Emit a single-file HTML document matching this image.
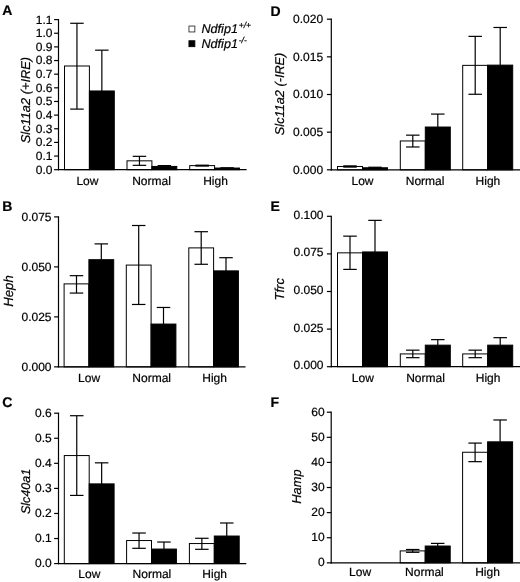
<!DOCTYPE html>
<html><head><meta charset="utf-8"><title>Figure</title>
<style>
html,body{margin:0;padding:0;background:#fff;}
body{width:520px;height:582px;overflow:hidden;}
svg{display:block;font-family:"Liberation Sans",sans-serif;fill:#000;text-rendering:geometricPrecision;}
text{stroke:#000;stroke-width:0.22px;}
</style></head><body>
<svg width="520" height="582" viewBox="0 0 520 582">
<rect x="0" y="0" width="520" height="582" fill="#fff"/>
<g>
<rect x="64.50" y="65.99" width="24.90" height="103.71" fill="#fff" stroke="#000" stroke-width="1.0"/>
<line x1="76.95" y1="23.28" x2="76.95" y2="109.11" stroke="#000" stroke-width="1.2"/>
<line x1="70.20" y1="23.28" x2="83.70" y2="23.28" stroke="#000" stroke-width="1.2"/>
<line x1="70.20" y1="109.11" x2="83.70" y2="109.11" stroke="#000" stroke-width="1.2"/>
<line x1="101.85" y1="50.17" x2="101.85" y2="90.97" stroke="#000" stroke-width="1.2"/>
<line x1="95.10" y1="50.17" x2="108.60" y2="50.17" stroke="#000" stroke-width="1.2"/>
<rect x="89.40" y="90.97" width="24.90" height="78.73" fill="#000" stroke="#000" stroke-width="1.0"/>
<rect x="127.00" y="160.83" width="24.90" height="8.87" fill="#fff" stroke="#000" stroke-width="1.0"/>
<line x1="139.45" y1="156.33" x2="139.45" y2="165.33" stroke="#000" stroke-width="1.2"/>
<line x1="132.70" y1="156.33" x2="146.20" y2="156.33" stroke="#000" stroke-width="1.2"/>
<line x1="132.70" y1="165.33" x2="146.20" y2="165.33" stroke="#000" stroke-width="1.2"/>
<line x1="164.35" y1="165.61" x2="164.35" y2="166.43" stroke="#000" stroke-width="1.2"/>
<line x1="157.60" y1="165.61" x2="171.10" y2="165.61" stroke="#000" stroke-width="1.2"/>
<rect x="151.90" y="166.43" width="24.90" height="3.27" fill="#000" stroke="#000" stroke-width="1.0"/>
<rect x="189.70" y="165.61" width="24.90" height="4.09" fill="#fff" stroke="#000" stroke-width="1.0"/>
<line x1="202.15" y1="165.20" x2="202.15" y2="166.02" stroke="#000" stroke-width="1.2"/>
<line x1="195.40" y1="165.20" x2="208.90" y2="165.20" stroke="#000" stroke-width="1.2"/>
<line x1="195.40" y1="166.02" x2="208.90" y2="166.02" stroke="#000" stroke-width="1.2"/>
<line x1="227.05" y1="167.79" x2="227.05" y2="168.06" stroke="#000" stroke-width="1.2"/>
<line x1="220.30" y1="167.79" x2="233.80" y2="167.79" stroke="#000" stroke-width="1.2"/>
<rect x="214.60" y="168.06" width="24.90" height="1.64" fill="#000" stroke="#000" stroke-width="1.0"/>
<line x1="58.50" y1="19.00" x2="58.50" y2="170.30" stroke="#000" stroke-width="1.2"/>
<line x1="57.90" y1="169.70" x2="246.60" y2="169.70" stroke="#000" stroke-width="1.2"/>
<line x1="54.10" y1="169.70" x2="58.50" y2="169.70" stroke="#000" stroke-width="1.2"/>
<line x1="54.10" y1="156.05" x2="58.50" y2="156.05" stroke="#000" stroke-width="1.2"/>
<line x1="54.10" y1="142.41" x2="58.50" y2="142.41" stroke="#000" stroke-width="1.2"/>
<line x1="54.10" y1="128.76" x2="58.50" y2="128.76" stroke="#000" stroke-width="1.2"/>
<line x1="54.10" y1="115.12" x2="58.50" y2="115.12" stroke="#000" stroke-width="1.2"/>
<line x1="54.10" y1="101.47" x2="58.50" y2="101.47" stroke="#000" stroke-width="1.2"/>
<line x1="54.10" y1="87.83" x2="58.50" y2="87.83" stroke="#000" stroke-width="1.2"/>
<line x1="54.10" y1="74.18" x2="58.50" y2="74.18" stroke="#000" stroke-width="1.2"/>
<line x1="54.10" y1="60.54" x2="58.50" y2="60.54" stroke="#000" stroke-width="1.2"/>
<line x1="54.10" y1="46.89" x2="58.50" y2="46.89" stroke="#000" stroke-width="1.2"/>
<line x1="54.10" y1="33.25" x2="58.50" y2="33.25" stroke="#000" stroke-width="1.2"/>
<line x1="54.10" y1="19.60" x2="58.50" y2="19.60" stroke="#000" stroke-width="1.2"/>
<rect x="64.10" y="283.88" width="24.80" height="82.97" fill="#fff" stroke="#000" stroke-width="1.0"/>
<line x1="76.50" y1="275.68" x2="76.50" y2="293.07" stroke="#000" stroke-width="1.2"/>
<line x1="69.75" y1="275.68" x2="83.25" y2="275.68" stroke="#000" stroke-width="1.2"/>
<line x1="69.75" y1="293.07" x2="83.25" y2="293.07" stroke="#000" stroke-width="1.2"/>
<line x1="101.30" y1="243.89" x2="101.30" y2="259.69" stroke="#000" stroke-width="1.2"/>
<line x1="94.55" y1="243.89" x2="108.05" y2="243.89" stroke="#000" stroke-width="1.2"/>
<rect x="88.90" y="259.69" width="24.80" height="107.16" fill="#000" stroke="#000" stroke-width="1.0"/>
<rect x="126.30" y="265.08" width="24.80" height="101.77" fill="#fff" stroke="#000" stroke-width="1.0"/>
<line x1="138.70" y1="225.50" x2="138.70" y2="304.47" stroke="#000" stroke-width="1.2"/>
<line x1="131.95" y1="225.50" x2="145.45" y2="225.50" stroke="#000" stroke-width="1.2"/>
<line x1="131.95" y1="304.47" x2="145.45" y2="304.47" stroke="#000" stroke-width="1.2"/>
<line x1="163.50" y1="307.47" x2="163.50" y2="324.06" stroke="#000" stroke-width="1.2"/>
<line x1="156.75" y1="307.47" x2="170.25" y2="307.47" stroke="#000" stroke-width="1.2"/>
<rect x="151.10" y="324.06" width="24.80" height="42.79" fill="#000" stroke="#000" stroke-width="1.0"/>
<rect x="188.80" y="247.89" width="24.80" height="118.96" fill="#fff" stroke="#000" stroke-width="1.0"/>
<line x1="201.20" y1="231.70" x2="201.20" y2="264.28" stroke="#000" stroke-width="1.2"/>
<line x1="194.45" y1="231.70" x2="207.95" y2="231.70" stroke="#000" stroke-width="1.2"/>
<line x1="194.45" y1="264.28" x2="207.95" y2="264.28" stroke="#000" stroke-width="1.2"/>
<line x1="226.00" y1="257.69" x2="226.00" y2="270.88" stroke="#000" stroke-width="1.2"/>
<line x1="219.25" y1="257.69" x2="232.75" y2="257.69" stroke="#000" stroke-width="1.2"/>
<rect x="213.60" y="270.88" width="24.80" height="95.97" fill="#000" stroke="#000" stroke-width="1.0"/>
<line x1="58.50" y1="216.30" x2="58.50" y2="367.45" stroke="#000" stroke-width="1.2"/>
<line x1="57.90" y1="366.85" x2="245.50" y2="366.85" stroke="#000" stroke-width="1.2"/>
<line x1="54.10" y1="366.85" x2="58.50" y2="366.85" stroke="#000" stroke-width="1.2"/>
<line x1="54.10" y1="316.87" x2="58.50" y2="316.87" stroke="#000" stroke-width="1.2"/>
<line x1="54.10" y1="266.88" x2="58.50" y2="266.88" stroke="#000" stroke-width="1.2"/>
<line x1="54.10" y1="216.90" x2="58.50" y2="216.90" stroke="#000" stroke-width="1.2"/>
<rect x="64.30" y="455.56" width="24.90" height="108.04" fill="#fff" stroke="#000" stroke-width="1.0"/>
<line x1="76.75" y1="415.71" x2="76.75" y2="495.42" stroke="#000" stroke-width="1.2"/>
<line x1="70.00" y1="415.71" x2="83.50" y2="415.71" stroke="#000" stroke-width="1.2"/>
<line x1="70.00" y1="495.42" x2="83.50" y2="495.42" stroke="#000" stroke-width="1.2"/>
<line x1="101.65" y1="462.83" x2="101.65" y2="483.89" stroke="#000" stroke-width="1.2"/>
<line x1="94.90" y1="462.83" x2="108.40" y2="462.83" stroke="#000" stroke-width="1.2"/>
<rect x="89.20" y="483.89" width="24.90" height="79.71" fill="#000" stroke="#000" stroke-width="1.0"/>
<rect x="126.60" y="540.54" width="24.90" height="23.06" fill="#fff" stroke="#000" stroke-width="1.0"/>
<line x1="139.05" y1="533.02" x2="139.05" y2="548.31" stroke="#000" stroke-width="1.2"/>
<line x1="132.30" y1="533.02" x2="145.80" y2="533.02" stroke="#000" stroke-width="1.2"/>
<line x1="132.30" y1="548.31" x2="145.80" y2="548.31" stroke="#000" stroke-width="1.2"/>
<line x1="163.95" y1="542.04" x2="163.95" y2="549.06" stroke="#000" stroke-width="1.2"/>
<line x1="157.20" y1="542.04" x2="170.70" y2="542.04" stroke="#000" stroke-width="1.2"/>
<rect x="151.50" y="549.06" width="24.90" height="14.54" fill="#000" stroke="#000" stroke-width="1.0"/>
<rect x="189.40" y="543.55" width="24.90" height="20.05" fill="#fff" stroke="#000" stroke-width="1.0"/>
<line x1="201.85" y1="538.28" x2="201.85" y2="549.31" stroke="#000" stroke-width="1.2"/>
<line x1="195.10" y1="538.28" x2="208.60" y2="538.28" stroke="#000" stroke-width="1.2"/>
<line x1="195.10" y1="549.31" x2="208.60" y2="549.31" stroke="#000" stroke-width="1.2"/>
<line x1="226.75" y1="522.99" x2="226.75" y2="536.03" stroke="#000" stroke-width="1.2"/>
<line x1="220.00" y1="522.99" x2="233.50" y2="522.99" stroke="#000" stroke-width="1.2"/>
<rect x="214.30" y="536.03" width="24.90" height="27.57" fill="#000" stroke="#000" stroke-width="1.0"/>
<line x1="58.50" y1="412.60" x2="58.50" y2="564.20" stroke="#000" stroke-width="1.2"/>
<line x1="57.90" y1="563.60" x2="246.30" y2="563.60" stroke="#000" stroke-width="1.2"/>
<line x1="54.10" y1="563.60" x2="58.50" y2="563.60" stroke="#000" stroke-width="1.2"/>
<line x1="54.10" y1="538.53" x2="58.50" y2="538.53" stroke="#000" stroke-width="1.2"/>
<line x1="54.10" y1="513.47" x2="58.50" y2="513.47" stroke="#000" stroke-width="1.2"/>
<line x1="54.10" y1="488.40" x2="58.50" y2="488.40" stroke="#000" stroke-width="1.2"/>
<line x1="54.10" y1="463.33" x2="58.50" y2="463.33" stroke="#000" stroke-width="1.2"/>
<line x1="54.10" y1="438.27" x2="58.50" y2="438.27" stroke="#000" stroke-width="1.2"/>
<line x1="54.10" y1="413.20" x2="58.50" y2="413.20" stroke="#000" stroke-width="1.2"/>
<rect x="337.50" y="166.49" width="25.00" height="3.31" fill="#fff" stroke="#000" stroke-width="1.0"/>
<line x1="350.00" y1="165.88" x2="350.00" y2="167.09" stroke="#000" stroke-width="1.2"/>
<line x1="343.25" y1="165.88" x2="356.75" y2="165.88" stroke="#000" stroke-width="1.2"/>
<line x1="343.25" y1="167.09" x2="356.75" y2="167.09" stroke="#000" stroke-width="1.2"/>
<line x1="375.00" y1="167.24" x2="375.00" y2="167.77" stroke="#000" stroke-width="1.2"/>
<line x1="368.25" y1="167.24" x2="381.75" y2="167.24" stroke="#000" stroke-width="1.2"/>
<rect x="362.50" y="167.77" width="25.00" height="2.03" fill="#000" stroke="#000" stroke-width="1.0"/>
<rect x="400.30" y="140.96" width="25.00" height="28.84" fill="#fff" stroke="#000" stroke-width="1.0"/>
<line x1="412.80" y1="135.16" x2="412.80" y2="146.98" stroke="#000" stroke-width="1.2"/>
<line x1="406.05" y1="135.16" x2="419.55" y2="135.16" stroke="#000" stroke-width="1.2"/>
<line x1="406.05" y1="146.98" x2="419.55" y2="146.98" stroke="#000" stroke-width="1.2"/>
<line x1="437.80" y1="114.08" x2="437.80" y2="127.03" stroke="#000" stroke-width="1.2"/>
<line x1="431.05" y1="114.08" x2="444.55" y2="114.08" stroke="#000" stroke-width="1.2"/>
<rect x="425.30" y="127.03" width="25.00" height="42.77" fill="#000" stroke="#000" stroke-width="1.0"/>
<rect x="462.70" y="65.36" width="25.00" height="104.44" fill="#fff" stroke="#000" stroke-width="1.0"/>
<line x1="475.20" y1="36.37" x2="475.20" y2="94.27" stroke="#000" stroke-width="1.2"/>
<line x1="468.45" y1="36.37" x2="481.95" y2="36.37" stroke="#000" stroke-width="1.2"/>
<line x1="468.45" y1="94.27" x2="481.95" y2="94.27" stroke="#000" stroke-width="1.2"/>
<line x1="500.20" y1="27.48" x2="500.20" y2="65.13" stroke="#000" stroke-width="1.2"/>
<line x1="493.45" y1="27.48" x2="506.95" y2="27.48" stroke="#000" stroke-width="1.2"/>
<rect x="487.70" y="65.13" width="25.00" height="104.67" fill="#000" stroke="#000" stroke-width="1.0"/>
<line x1="331.30" y1="18.60" x2="331.30" y2="170.40" stroke="#000" stroke-width="1.2"/>
<line x1="330.70" y1="169.80" x2="520.00" y2="169.80" stroke="#000" stroke-width="1.2"/>
<line x1="326.90" y1="169.80" x2="331.30" y2="169.80" stroke="#000" stroke-width="1.2"/>
<line x1="326.90" y1="132.15" x2="331.30" y2="132.15" stroke="#000" stroke-width="1.2"/>
<line x1="326.90" y1="94.50" x2="331.30" y2="94.50" stroke="#000" stroke-width="1.2"/>
<line x1="326.90" y1="56.85" x2="331.30" y2="56.85" stroke="#000" stroke-width="1.2"/>
<line x1="326.90" y1="19.20" x2="331.30" y2="19.20" stroke="#000" stroke-width="1.2"/>
<rect x="337.50" y="252.85" width="25.00" height="113.85" fill="#fff" stroke="#000" stroke-width="1.0"/>
<line x1="350.00" y1="236.15" x2="350.00" y2="269.39" stroke="#000" stroke-width="1.2"/>
<line x1="343.25" y1="236.15" x2="356.75" y2="236.15" stroke="#000" stroke-width="1.2"/>
<line x1="343.25" y1="269.39" x2="356.75" y2="269.39" stroke="#000" stroke-width="1.2"/>
<line x1="375.00" y1="220.36" x2="375.00" y2="251.94" stroke="#000" stroke-width="1.2"/>
<line x1="368.25" y1="220.36" x2="381.75" y2="220.36" stroke="#000" stroke-width="1.2"/>
<rect x="362.50" y="251.94" width="25.00" height="114.76" fill="#000" stroke="#000" stroke-width="1.0"/>
<rect x="400.30" y="353.92" width="25.00" height="12.78" fill="#fff" stroke="#000" stroke-width="1.0"/>
<line x1="412.80" y1="350.16" x2="412.80" y2="357.68" stroke="#000" stroke-width="1.2"/>
<line x1="406.05" y1="350.16" x2="419.55" y2="350.16" stroke="#000" stroke-width="1.2"/>
<line x1="406.05" y1="357.68" x2="419.55" y2="357.68" stroke="#000" stroke-width="1.2"/>
<line x1="437.80" y1="339.63" x2="437.80" y2="345.15" stroke="#000" stroke-width="1.2"/>
<line x1="431.05" y1="339.63" x2="444.55" y2="339.63" stroke="#000" stroke-width="1.2"/>
<rect x="425.30" y="345.15" width="25.00" height="21.55" fill="#000" stroke="#000" stroke-width="1.0"/>
<rect x="462.70" y="353.92" width="25.00" height="12.78" fill="#fff" stroke="#000" stroke-width="1.0"/>
<line x1="475.20" y1="350.16" x2="475.20" y2="357.68" stroke="#000" stroke-width="1.2"/>
<line x1="468.45" y1="350.16" x2="481.95" y2="350.16" stroke="#000" stroke-width="1.2"/>
<line x1="468.45" y1="357.68" x2="481.95" y2="357.68" stroke="#000" stroke-width="1.2"/>
<line x1="500.20" y1="337.67" x2="500.20" y2="345.15" stroke="#000" stroke-width="1.2"/>
<line x1="493.45" y1="337.67" x2="506.95" y2="337.67" stroke="#000" stroke-width="1.2"/>
<rect x="487.70" y="345.15" width="25.00" height="21.55" fill="#000" stroke="#000" stroke-width="1.0"/>
<line x1="331.30" y1="215.70" x2="331.30" y2="367.30" stroke="#000" stroke-width="1.2"/>
<line x1="330.70" y1="366.70" x2="520.00" y2="366.70" stroke="#000" stroke-width="1.2"/>
<line x1="326.90" y1="366.70" x2="331.30" y2="366.70" stroke="#000" stroke-width="1.2"/>
<line x1="326.90" y1="329.10" x2="331.30" y2="329.10" stroke="#000" stroke-width="1.2"/>
<line x1="326.90" y1="291.50" x2="331.30" y2="291.50" stroke="#000" stroke-width="1.2"/>
<line x1="326.90" y1="253.90" x2="331.30" y2="253.90" stroke="#000" stroke-width="1.2"/>
<line x1="326.90" y1="216.30" x2="331.30" y2="216.30" stroke="#000" stroke-width="1.2"/>
<rect x="400.20" y="550.90" width="25.00" height="11.95" fill="#fff" stroke="#000" stroke-width="1.0"/>
<line x1="412.70" y1="549.49" x2="412.70" y2="552.30" stroke="#000" stroke-width="1.2"/>
<line x1="405.95" y1="549.49" x2="419.45" y2="549.49" stroke="#000" stroke-width="1.2"/>
<line x1="405.95" y1="552.30" x2="419.45" y2="552.30" stroke="#000" stroke-width="1.2"/>
<line x1="437.70" y1="543.39" x2="437.70" y2="546.03" stroke="#000" stroke-width="1.2"/>
<line x1="430.95" y1="543.39" x2="444.45" y2="543.39" stroke="#000" stroke-width="1.2"/>
<rect x="425.20" y="546.03" width="25.00" height="16.82" fill="#000" stroke="#000" stroke-width="1.0"/>
<rect x="462.60" y="452.25" width="25.00" height="110.60" fill="#fff" stroke="#000" stroke-width="1.0"/>
<line x1="475.10" y1="443.08" x2="475.10" y2="461.66" stroke="#000" stroke-width="1.2"/>
<line x1="468.35" y1="443.08" x2="481.85" y2="443.08" stroke="#000" stroke-width="1.2"/>
<line x1="468.35" y1="461.66" x2="481.85" y2="461.66" stroke="#000" stroke-width="1.2"/>
<line x1="500.10" y1="419.98" x2="500.10" y2="441.83" stroke="#000" stroke-width="1.2"/>
<line x1="493.35" y1="419.98" x2="506.85" y2="419.98" stroke="#000" stroke-width="1.2"/>
<rect x="487.60" y="441.83" width="25.00" height="121.02" fill="#000" stroke="#000" stroke-width="1.0"/>
<line x1="331.20" y1="411.60" x2="331.20" y2="563.45" stroke="#000" stroke-width="1.2"/>
<line x1="330.60" y1="562.85" x2="520.00" y2="562.85" stroke="#000" stroke-width="1.2"/>
<line x1="326.80" y1="562.85" x2="331.20" y2="562.85" stroke="#000" stroke-width="1.2"/>
<line x1="326.80" y1="537.74" x2="331.20" y2="537.74" stroke="#000" stroke-width="1.2"/>
<line x1="326.80" y1="512.63" x2="331.20" y2="512.63" stroke="#000" stroke-width="1.2"/>
<line x1="326.80" y1="487.52" x2="331.20" y2="487.52" stroke="#000" stroke-width="1.2"/>
<line x1="326.80" y1="462.42" x2="331.20" y2="462.42" stroke="#000" stroke-width="1.2"/>
<line x1="326.80" y1="437.31" x2="331.20" y2="437.31" stroke="#000" stroke-width="1.2"/>
<line x1="326.80" y1="412.20" x2="331.20" y2="412.20" stroke="#000" stroke-width="1.2"/>
<rect x="188.95" y="26.05" width="5.9" height="5.9" fill="#fff" stroke="#333" stroke-width="0.9"/>
<rect x="188.95" y="40.75" width="5.9" height="5.9" fill="#000" stroke="#000" stroke-width="0.9"/>
</g>
<g opacity="0.999">
<text x="2.30" y="15.40" font-size="14" text-anchor="start" style="font-weight:bold">A</text>
<text x="87.40" y="185.30" font-size="12" text-anchor="middle">Low</text>
<text x="151.50" y="185.30" font-size="12" text-anchor="middle">Normal</text>
<text x="215.50" y="185.30" font-size="12" text-anchor="middle">High</text>
<text x="52.40" y="173.60" font-size="12" text-anchor="end">0.0</text>
<text x="52.40" y="159.95" font-size="12" text-anchor="end">0.1</text>
<text x="52.40" y="146.31" font-size="12" text-anchor="end">0.2</text>
<text x="52.40" y="132.66" font-size="12" text-anchor="end">0.3</text>
<text x="52.40" y="119.02" font-size="12" text-anchor="end">0.4</text>
<text x="52.40" y="105.37" font-size="12" text-anchor="end">0.5</text>
<text x="52.40" y="91.73" font-size="12" text-anchor="end">0.6</text>
<text x="52.40" y="78.08" font-size="12" text-anchor="end">0.7</text>
<text x="52.40" y="64.44" font-size="12" text-anchor="end">0.8</text>
<text x="52.40" y="50.79" font-size="12" text-anchor="end">0.9</text>
<text x="52.40" y="37.15" font-size="12" text-anchor="end">1.0</text>
<text x="52.40" y="23.50" font-size="12" text-anchor="end">1.1</text>
<text transform="translate(30.00,100.10) rotate(-90)" font-size="12.8" text-anchor="middle" style="font-style:italic">Slc11a2 (+IRE)</text>
<text x="2.20" y="211.10" font-size="14" text-anchor="start" style="font-weight:bold">B</text>
<text x="89.10" y="381.90" font-size="12" text-anchor="middle">Low</text>
<text x="151.70" y="381.90" font-size="12" text-anchor="middle">Normal</text>
<text x="214.60" y="381.90" font-size="12" text-anchor="middle">High</text>
<text x="51.50" y="370.70" font-size="12" text-anchor="end">0.000</text>
<text x="51.50" y="320.72" font-size="12" text-anchor="end">0.025</text>
<text x="51.50" y="270.73" font-size="12" text-anchor="end">0.050</text>
<text x="51.50" y="220.75" font-size="12" text-anchor="end">0.075</text>
<text transform="translate(13.20,291.00) rotate(-90)" font-size="13.2" text-anchor="middle" style="font-style:italic">Heph</text>
<text x="2.20" y="406.60" font-size="14" text-anchor="start" style="font-weight:bold">C</text>
<text x="89.30" y="577.60" font-size="12" text-anchor="middle">Low</text>
<text x="151.90" y="577.60" font-size="12" text-anchor="middle">Normal</text>
<text x="214.70" y="577.60" font-size="12" text-anchor="middle">High</text>
<text x="51.80" y="567.20" font-size="12" text-anchor="end">0.0</text>
<text x="51.80" y="542.13" font-size="12" text-anchor="end">0.1</text>
<text x="51.80" y="517.07" font-size="12" text-anchor="end">0.2</text>
<text x="51.80" y="492.00" font-size="12" text-anchor="end">0.3</text>
<text x="51.80" y="466.93" font-size="12" text-anchor="end">0.4</text>
<text x="51.80" y="441.87" font-size="12" text-anchor="end">0.5</text>
<text x="51.80" y="416.80" font-size="12" text-anchor="end">0.6</text>
<text transform="translate(30.10,491.50) rotate(-90)" font-size="12.5" text-anchor="middle" style="font-style:italic">Slc40a1</text>
<text x="270.40" y="15.50" font-size="14" text-anchor="start" style="font-weight:bold">D</text>
<text x="362.50" y="184.60" font-size="12" text-anchor="middle">Low</text>
<text x="425.10" y="184.60" font-size="12" text-anchor="middle">Normal</text>
<text x="487.90" y="184.60" font-size="12" text-anchor="middle">High</text>
<text x="323.10" y="173.75" font-size="12" text-anchor="end">0.000</text>
<text x="323.10" y="136.10" font-size="12" text-anchor="end">0.005</text>
<text x="323.10" y="98.45" font-size="12" text-anchor="end">0.010</text>
<text x="323.10" y="60.80" font-size="12" text-anchor="end">0.015</text>
<text x="323.10" y="23.15" font-size="12" text-anchor="end">0.020</text>
<text transform="translate(283.60,93.90) rotate(-90)" font-size="12.72" text-anchor="middle" style="font-style:italic">Slc11a2 (-IRE)</text>
<text x="270.40" y="211.00" font-size="14" text-anchor="start" style="font-weight:bold">E</text>
<text x="362.80" y="381.70" font-size="12" text-anchor="middle">Low</text>
<text x="425.50" y="381.70" font-size="12" text-anchor="middle">Normal</text>
<text x="488.10" y="381.70" font-size="12" text-anchor="middle">High</text>
<text x="323.50" y="369.20" font-size="12" text-anchor="end">0.000</text>
<text x="323.50" y="331.60" font-size="12" text-anchor="end">0.025</text>
<text x="323.50" y="294.00" font-size="12" text-anchor="end">0.050</text>
<text x="323.50" y="256.40" font-size="12" text-anchor="end">0.075</text>
<text x="323.50" y="218.80" font-size="12" text-anchor="end">0.100</text>
<text transform="translate(283.80,289.30) rotate(-90)" font-size="13.0" text-anchor="middle" style="font-style:italic">Tfrc</text>
<text x="270.40" y="406.80" font-size="14" text-anchor="start" style="font-weight:bold">F</text>
<text x="360.10" y="576.30" font-size="12" text-anchor="middle">Low</text>
<text x="424.40" y="576.30" font-size="12" text-anchor="middle">Normal</text>
<text x="487.50" y="576.30" font-size="12" text-anchor="middle">High</text>
<text x="324.60" y="566.35" font-size="12" text-anchor="end">0</text>
<text x="324.60" y="541.24" font-size="12" text-anchor="end">10</text>
<text x="324.60" y="516.13" font-size="12" text-anchor="end">20</text>
<text x="324.60" y="491.02" font-size="12" text-anchor="end">30</text>
<text x="324.60" y="465.92" font-size="12" text-anchor="end">40</text>
<text x="324.60" y="440.81" font-size="12" text-anchor="end">50</text>
<text x="324.60" y="415.70" font-size="12" text-anchor="end">60</text>
<text transform="translate(300.60,486.50) rotate(-90)" font-size="12.9" text-anchor="middle" style="font-style:italic">Hamp</text>
<text x="201.5" y="33.1" font-size="12.6" style="font-style:italic">Ndfip1<tspan font-size="8.5" dx="0.8" dy="-5.0">+/+</tspan></text>
<text x="201.5" y="47.7" font-size="12.6" style="font-style:italic">Ndfip1<tspan font-size="8.5" dx="0.8" dy="-5.0">-/-</tspan></text>
</g>
</svg>
</body></html>
